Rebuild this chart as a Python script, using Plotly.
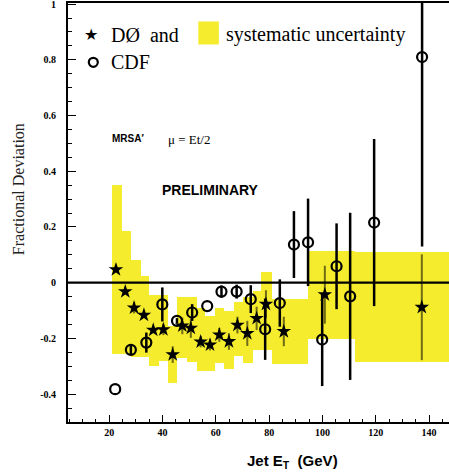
import plotly.graph_objects as go
import numpy as np

# ---------------- data ----------------
d0_x = [22.5, 26.0, 29.3, 33.0, 36.5, 40.3, 43.8, 47.4, 50.6, 54.3, 57.8, 61.3, 64.9, 68.1, 71.8, 75.3, 78.8, 85.5, 100.9, 137.3]
d0_y = [0.047, -0.032, -0.09, -0.116, -0.17, -0.168, -0.258, -0.155, -0.163, -0.212, -0.223, -0.187, -0.211, -0.152, -0.182, -0.128, -0.077, -0.175, -0.043, -0.088]
d0_err = [0.0, 0.01, 0.02, 0.01, 0.01, 0.02, 0.03, 0.03, 0.035, 0.02, 0.02, 0.025, 0.03, 0.03, 0.045, 0.042, 0.05, 0.053, 0.104, 0.19]

cdf_x = [22.2, 28.1, 33.9, 39.9, 45.4, 51.1, 56.75, 62.1, 67.8, 73.1, 78.5, 84.0, 89.3, 94.6, 99.9, 105.3, 110.4, 119.4, 137.4]
cdf_y = [-0.382, -0.241, -0.215, -0.078, -0.137, -0.107, -0.084, -0.032, -0.032, -0.059, -0.167, -0.073, 0.137, 0.145, -0.204, 0.059, -0.049, 0.216, 0.81]
cdf_err = [0.0, 0.015, 0.036, 0.061, 0.01, 0.03, 0.0, 0.022, 0.025, 0.05, 0.11, 0.085, 0.12, 0.157, 0.167, 0.154, 0.3, 0.3, 0.68]

band_edges = [20.9, 24.65, 28.1, 31.8, 35.0, 38.75, 42.1, 45.5, 49.0, 52.8, 55.9, 59.6, 63.1, 66.9, 70.25, 74.0, 76.9, 80.9, 94.6, 112.1, 147.5]
band_top = [0.349, 0.187, 0.083, 0.025, -0.045, -0.045, -0.157, -0.05, -0.05, -0.09, -0.12, -0.09, -0.1, -0.07, -0.05, -0.03, 0.04, -0.06, 0.115, 0.109]
band_bot = [-0.255, -0.255, -0.265, -0.265, -0.3, -0.28, -0.36, -0.27, -0.285, -0.317, -0.317, -0.287, -0.311, -0.263, -0.287, -0.24, -0.242, -0.29, -0.203, -0.283]

x_ticks = [20, 40, 60, 80, 100, 120, 140]
x_ticklabels = ["20", "40", "60", "80", "100", "120", "140"]
y_ticks = [-0.4, -0.2, 0, 0.2, 0.4, 0.6, 0.8, 1.0]
y_ticklabels = ["-0.4", "-0.2", "0", "0.2", "0.4", "0.6", "0.8", "1"]

YELLOW = "#F5EC2E"

# ---------------- figure ----------------
edges = np.array(band_edges)
centers = (edges[:-1] + edges[1:]) / 2
widths = edges[1:] - edges[:-1]
top = np.array(band_top)
bot = np.array(band_bot)

fig = go.Figure()
fig.add_trace(go.Bar(x=centers, y=top - bot, base=bot, width=widths,
                     marker=dict(color=YELLOW, line=dict(width=0)),
                     hoverinfo="skip", showlegend=False))

fig.add_trace(go.Scatter(x=d0_x, y=d0_y, mode="markers",
                         marker=dict(symbol="star", size=11, color="black", line=dict(width=0)),
                         error_y=dict(type="data", array=d0_err, visible=True,
                                      color="rgba(0,0,0,0.55)", thickness=2, width=0),
                         showlegend=False))

fig.add_trace(go.Scatter(x=cdf_x, y=cdf_y, mode="markers",
                         marker=dict(symbol="circle-open", size=10, color="black", line=dict(width=2.2)),
                         error_y=dict(type="data", array=cdf_err, visible=True,
                                      color="black", thickness=2.5, width=0),
                         showlegend=False))

# zero reference line
fig.add_shape(type="line", xref="paper", yref="y", x0=0, x1=1, y0=0, y1=0,
              line=dict(color="black", width=2.2), layer="above")

# legend elements
fig.add_shape(type="rect", xref="paper", yref="paper", x0=0.342, x1=0.396, y0=0.901, y1=0.956,
              fillcolor=YELLOW, line=dict(width=0))
fig.add_shape(type="circle", xref="paper", yref="paper", x0=0.0546, x1=0.0782, y0=0.8477, y1=0.8692,
              fillcolor="white", line=dict(color="black", width=2.2))

serif = "Liberation Serif"
sans = "Liberation Sans"
annots = [
    dict(x=0.060, y=0.925, text="★", font=dict(family="DejaVu Sans", size=16, color="black"),
         xanchor="center", yanchor="middle"),
    dict(x=0.108, y=0.924, text="DØ  and", font=dict(family=serif, size=20, color="black"),
         xanchor="left", yanchor="middle"),
    dict(x=0.410, y=0.924, text="systematic uncertainty", font=dict(family=serif, size=20, color="black"),
         xanchor="left", yanchor="middle"),
    dict(x=0.108, y=0.859, text="CDF", font=dict(family=serif, size=20, color="black"),
         xanchor="left", yanchor="middle"),
    dict(x=0.158, y=0.676, text="<b>MRSA′</b>", font=dict(family=sans, size=10, color="black"),
         xanchor="center", yanchor="middle"),
    dict(x=0.318, y=0.675, text="μ = Et/2", font=dict(family=serif, size=13, color="black"),
         xanchor="center", yanchor="middle"),
    dict(x=0.373, y=0.554, text="<b>PRELIMINARY</b>", font=dict(family=sans, size=14, color="black"),
         xanchor="center", yanchor="middle"),
    dict(x=0.588, y=-0.095, text="<b>Jet E<sub>T</sub>  (GeV)</b>", font=dict(family=sans, size=15, color="black"),
         xanchor="center", yanchor="middle"),
    dict(x=-0.131, y=0.556, text="Fractional Deviation", textangle=-90,
         font=dict(family=serif, size=16, color="#222"), xanchor="center", yanchor="middle"),
]
for a in annots:
    a.setdefault("xref", "paper")
    a.setdefault("yref", "paper")
    a["showarrow"] = False
    fig.add_annotation(**a)

fig.update_layout(
    width=449, height=474,
    margin=dict(l=68, r=0, t=3, b=52),
    paper_bgcolor="white", plot_bgcolor="white",
    showlegend=False, bargap=0,
)
fig.update_xaxes(range=[4.5, 147.5], showgrid=False, zeroline=False,
                 showline=True, linecolor="black", linewidth=2, mirror=True,
                 tickmode="array", tickvals=x_ticks, ticktext=x_ticklabels,
                 ticks="inside", ticklen=7, tickwidth=1.2, tickcolor="black",
                 tickfont=dict(family=serif, size=10, color="black", weight="bold"),
                 minor=dict(ticks="inside", ticklen=3.5, tickwidth=1.2, tickcolor="black", dtick=5, tick0=0, showgrid=False))
fig.update_yaxes(range=[-0.5, 1.004], showgrid=False, zeroline=False,
                 showline=True, linecolor="black", linewidth=2, mirror=False,
                 tickmode="array", tickvals=y_ticks, ticktext=y_ticklabels,
                 ticks="inside", ticklen=8, tickwidth=1.2, tickcolor="black",
                 ticklabelstandoff=8, ticklabeloverflow="allow",
                 tickfont=dict(family=serif, size=10, color="black", weight="bold"),
                 minor=dict(ticks="inside", ticklen=4, tickwidth=1.2, tickcolor="black", dtick=0.05, tick0=0, showgrid=False))

fig.write_html("out.html")
